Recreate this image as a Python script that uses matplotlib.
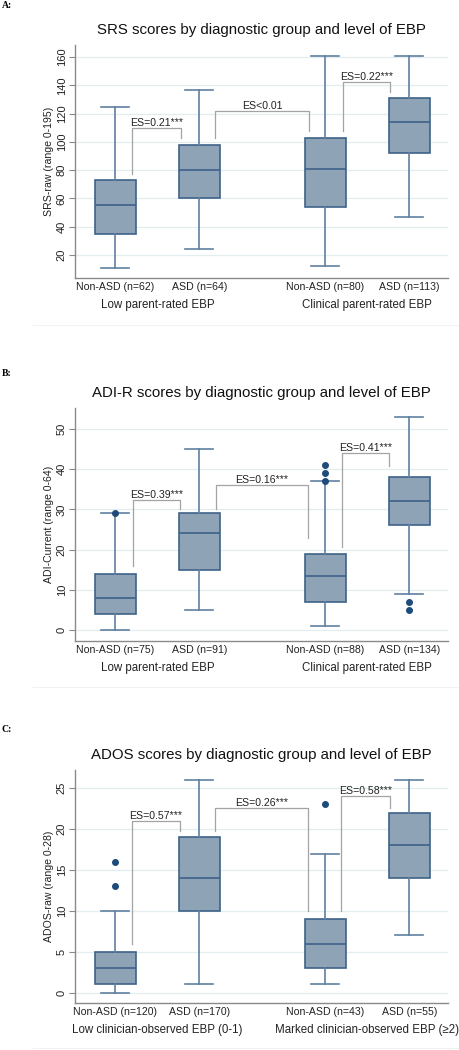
import matplotlib
matplotlib.use("Agg")
import matplotlib.pyplot as plt
from matplotlib.lines import Line2D

plt.rcParams['font.family'] = ['Liberation Sans', 'DejaVu Sans']

# ---------------- data ----------------
tick_labels_A = ["Non-ASD (n=62)", "ASD (n=64)", "Non-ASD (n=80)", "ASD (n=113)"]
groups_A = ["Low parent-rated EBP", "Clinical parent-rated EBP"]
lo_A = [11, 24, 12, 47]
q1_A = [35, 60, 54, 92]
med_A = [55, 80, 80.5, 114]
q3_A = [73, 98, 102.5, 131]
hi_A = [125, 137, 161, 161]
fl_A = [[], [], [], []]
es_A = ["ES=0.21***", "ES<0.01", "ES=0.22***"]

tick_labels_B = ["Non-ASD (n=75)", "ASD (n=91)", "Non-ASD (n=88)", "ASD (n=134)"]
groups_B = ["Low parent-rated EBP", "Clinical parent-rated EBP"]
lo_B = [0, 5, 1, 9]
q1_B = [4, 15, 7, 26]
med_B = [8, 24, 13.5, 32]
q3_B = [14, 29, 19, 38]
hi_B = [29, 45, 37, 53]
fl_B = [[29], [], [37, 39, 41], [5, 7]]
es_B = ["ES=0.39***", "ES=0.16***", "ES=0.41***"]

tick_labels_C = ["Non-ASD (n=120)", "ASD (n=170)", "Non-ASD (n=43)", "ASD (n=55)"]
groups_C = ["Low clinician-observed EBP (0-1)", "Marked clinician-observed EBP (\u22652)"]
lo_C = [0, 1, 1, 7]
q1_C = [1, 10, 3, 14]
med_C = [3, 14, 6, 18]
q3_C = [5, 19, 9, 22]
hi_C = [10, 26, 17, 26]
fl_C = [[13, 16], [], [23], []]
es_C = ["ES=0.57***", "ES=0.26***", "ES=0.58***"]

# ---------------- style ----------------
positions = [1, 2, 3.5, 4.5]
group_pos = [1.5, 4.0]
BOX_FILL = "#8FA3B7"
BOX_EDGE = "#3E6289"
WHISK = "#5F80A0"
DOT = "#1D4B7C"
BRK = "#A3A3A3"
GRID = "#E3EDEF"
SPINE = "#8A8A8A"

fig = plt.figure(figsize=(4.6, 10.5), dpi=100)


def panel(rect, letter, letter_y, title, ylabel, ylim, yticks,
          lo, q1, med, q3, hi, fl, labels, groups, es, brackets):
    ax = fig.add_axes(rect)
    stats = []
    for i in range(len(lo)):
        stats.append(dict(whislo=lo[i], q1=q1[i], med=med[i], q3=q3[i],
                          whishi=hi[i], fliers=fl[i]))
    ax.bxp(stats, positions=positions, widths=0.49, patch_artist=True,
           boxprops=dict(facecolor=BOX_FILL, edgecolor=BOX_EDGE, linewidth=1.2),
           medianprops=dict(color=BOX_EDGE, linewidth=1.2),
           whiskerprops=dict(color=WHISK, linewidth=1.2),
           capprops=dict(color=WHISK, linewidth=1.2),
           capwidths=0.33,
           flierprops=dict(marker='o', markerfacecolor=DOT, markeredgecolor=DOT,
                           markersize=4.0, linestyle='none'),
           zorder=3)
    ax.set_xlim(0.52, 4.96)
    ax.set_ylim(*ylim)
    ax.set_yticks(yticks)
    ax.set_yticklabels([str(t) for t in yticks], rotation=90, va='center',
                       fontsize=8)
    ax.yaxis.grid(True, color=GRID, linewidth=0.9, zorder=0)
    ax.set_axisbelow(True)
    for s in ['top', 'right']:
        ax.spines[s].set_visible(False)
    for s in ['left', 'bottom']:
        ax.spines[s].set_color(SPINE)
        ax.spines[s].set_linewidth(1.0)
    ax.tick_params(axis='y', colors=SPINE, length=4, width=0.8, labelcolor='#222222', pad=2)
    ax.tick_params(axis='x', length=0, pad=3)
    ax.set_xticks(positions)
    ax.set_xticklabels(labels, fontsize=7.6, color='#222222')
    ax.set_ylabel(ylabel, fontsize=7.6, labelpad=2, color='#222222')
    ax.set_title(title, fontsize=10.8, pad=8, color='#111111')
    for gp, g in zip(group_pos, groups):
        ax.annotate(g, xy=(gp, 0), xycoords=('data', 'axes fraction'),
                    xytext=(0, -19.5), textcoords='offset points',
                    ha='center', va='center', fontsize=8.3, color='#222222')
    for (xl, yl, xr, yr, ytop), txt in zip(brackets, es):
        ax.plot([xl, xl, xr, xr], [yl, ytop, ytop, yr], color=BRK,
                linewidth=0.9, zorder=2)
        ax.text((xl + xr) / 2, ytop, txt, ha='center', va='bottom',
                fontsize=7.6, color='#222222')
    fig.text(0.004, letter_y, letter, fontsize=7, fontweight='bold',
             family='Liberation Serif', va='center', ha='left')
    return ax


H = 233 / 1050
W = 373 / 460
L = 75 / 460

panel([L, 1 - 278 / 1050, W, H], "A:", 1 - 5 / 1050,
      "SRS scores by diagnostic group and level of EBP", "SRS-raw (range 0-195)",
      (3.7, 168.5), [20, 40, 60, 80, 100, 120, 140, 160],
      lo_A, q1_A, med_A, q3_A, hi_A, fl_A, tick_labels_A, groups_A, es_A,
      [(1.2, 77.5, 1.78, 103, 110), (2.19, 103, 3.3, 108, 122),
       (3.71, 107.5, 4.27, 135, 142)])

panel([L, 1 - 641 / 1050, W, H], "B:", 1 - 373 / 1050,
      "ADI-R scores by diagnostic group and level of EBP", "ADI-Current (range 0-64)",
      (-2.74, 55.2), [0, 10, 20, 30, 40, 50],
      lo_B, q1_B, med_B, q3_B, hi_B, fl_B, tick_labels_B, groups_B, es_B,
      [(1.21, 15.8, 1.77, 30.1, 32.4), (2.2, 30.1, 3.29, 22.8, 36),
       (3.7, 20.6, 4.26, 40.9, 44)])

panel([L, 1 - 1003 / 1050, W, H], "C:", 1 - 729 / 1050,
      "ADOS scores by diagnostic group and level of EBP", "ADOS-raw (range 0-28)",
      (-1.26, 27.2), [0, 5, 10, 15, 20, 25],
      lo_C, q1_C, med_C, q3_C, hi_C, fl_C, tick_labels_C, groups_C, es_C,
      [(1.2, 5.9, 1.77, 19.8, 21), (2.19, 19.8, 3.29, 9.95, 22.5),
       (3.69, 10, 4.27, 22.5, 24)])

# faint graph-region borders
for yb in [325, 687, 1048]:
    fig.add_artist(Line2D([33 / 460, 1.0], [1 - yb / 1050] * 2,
                          transform=fig.transFigure, color="#F2F2F2", linewidth=0.8))

fig.savefig("out.png", dpi=100, facecolor="white")
